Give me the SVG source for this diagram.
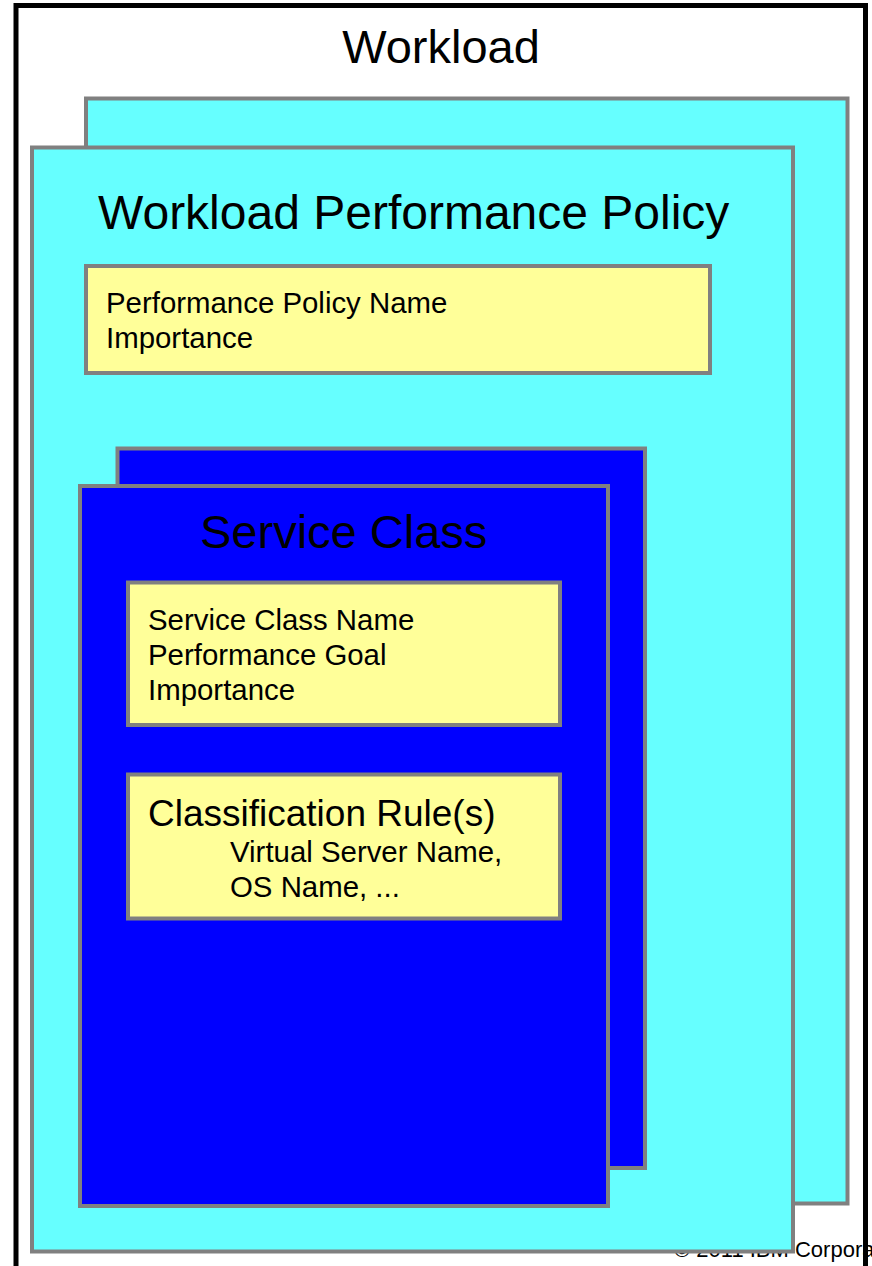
<svg xmlns="http://www.w3.org/2000/svg" width="872" height="1266" viewBox="0 0 872 1266">
  <style>
    .box { stroke: #808080; stroke-width: 4; }
    .cyan { fill: #66FFFF; }
    .blue { fill: #0000FF; }
    .yellow { fill: #FFFF99; }
    text { font-family: "Liberation Sans", Arial, sans-serif; fill: #000000; }
    .title { font-size: 47px; }
    .big { font-size: 48px; }
    .item { font-size: 29.4px; }
    .rule { font-size: 37px; }
    .copy { font-size: 22px; }
  </style>
  <rect x="0" y="0" width="872" height="1266" fill="#FFFFFF"/>
  <g id="copyright">
    <text class="copy" x="674" y="1257">© 2011 IBM Corporation</text>
  </g>
  <g id="workload">
    <text class="title" x="441" y="63" text-anchor="middle">Workload</text>
  </g>
  <g id="policy-back">
    <rect class="box cyan" x="86" y="98.5" width="761.5" height="1105"/>
  </g>
  <g id="workload-performance-policy">
    <rect class="box cyan" x="32" y="147.5" width="761" height="1104"/>
    <text class="big" x="98" y="229">Workload Performance Policy</text>
  </g>
  <g id="policy-attributes">
    <rect class="box yellow" x="86" y="266" width="624" height="107"/>
    <text class="item" x="106" y="313">Performance Policy Name</text>
    <text class="item" x="106" y="348">Importance</text>
  </g>
  <g id="service-class-back">
    <rect class="box blue" x="117.5" y="448.5" width="527.5" height="719.5"/>
  </g>
  <g id="service-class">
    <rect class="box blue" x="80" y="486" width="528" height="720"/>
    <text class="title" x="200" y="548">Service Class</text>
  </g>
  <g id="service-class-attributes">
    <rect class="box yellow" x="128" y="582.5" width="432" height="142.5"/>
    <text class="item" x="148" y="630">Service Class Name</text>
    <text class="item" x="148" y="665">Performance Goal</text>
    <text class="item" x="148" y="700">Importance</text>
  </g>
  <g id="classification-rules">
    <rect class="box yellow" x="128" y="774.5" width="432" height="144"/>
    <text class="rule" x="148" y="826">Classification Rule(s)</text>
    <text class="item" x="230" y="862">Virtual Server Name,</text>
    <text class="item" x="230" y="897">OS Name, ...</text>
  </g>
  <g id="connectors"></g>
  <g id="outer-border">
    <rect x="16" y="5.5" width="849.5" height="1280" fill="none" stroke="#000000" stroke-width="5"/>
  </g>
</svg>
